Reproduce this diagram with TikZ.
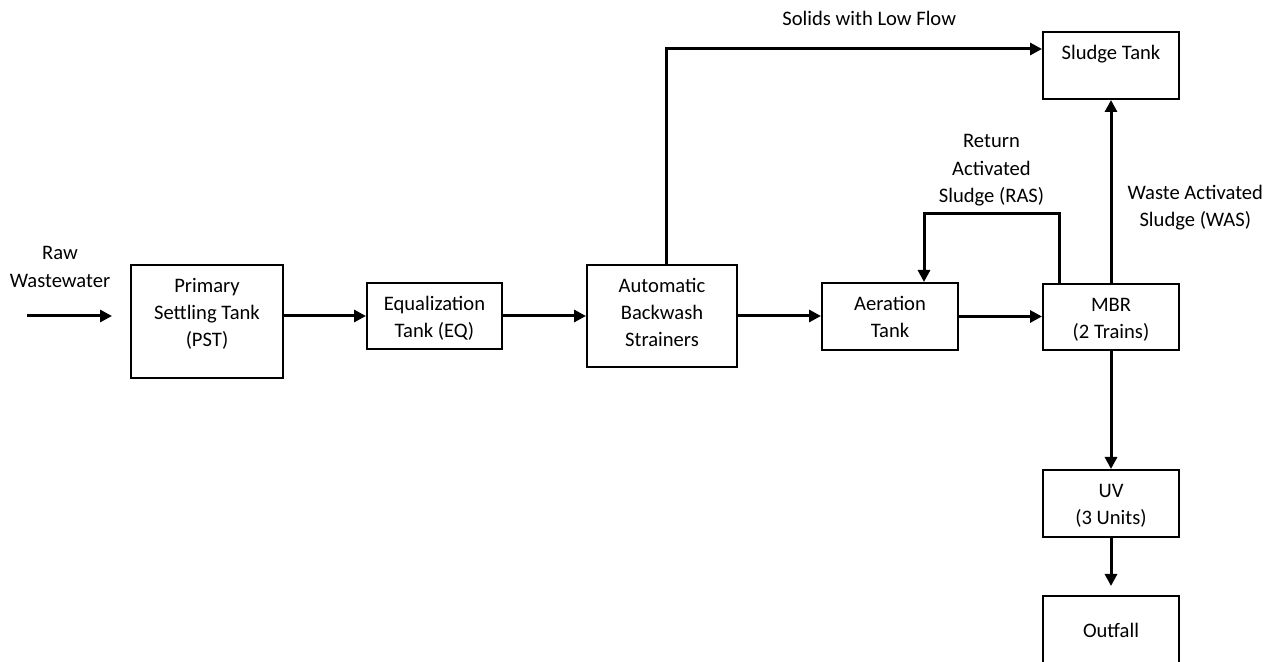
\documentclass[tikz,border=0pt]{standalone}
\usepackage{fontspec}
\setmainfont{Carlito}
\usetikzlibrary{arrows.meta,positioning,calc}

\begin{document}
\begin{tikzpicture}[
    x=0.5pt, y=-0.5pt,
    font=\fontsize{10.3pt}{13.6pt}\selectfont,
    unit/.style={draw, line width=1pt, inner sep=0pt, align=flush center, text height=13.7pt, anchor=north west},
    flow/.style={->, >={Triangle[length=6pt,width=6pt]}, line width=1.5pt},
    tag/.style={align=center}
]
\clip (0,0) rectangle (1270,662);

% treatment units
\node[unit, text width=76pt, text depth=42.8pt] (pst) at (130,264) {Primary\\Settling Tank\\(PST)};
\node[unit, text width=67.5pt, text depth=19.3pt] (eq) at (366,282) {Equalization\\Tank (EQ)};
\node[unit, text width=75pt, text depth=37.3pt] (abs) at (586,264) {Automatic\\Backwash\\Strainers};
\node[unit, text width=68pt, text depth=19.8pt] (aer) at (821,282) {Aeration\\Tank};
\node[unit, text width=68pt, text depth=19.3pt] (mbr) at (1042,283) {MBR\\(2 Trains)};
\node[unit, text width=68pt, text depth=19.8pt] (sludge) at (1042,31) {Sludge Tank};
\node[unit, text width=68pt, text depth=19.8pt] (uv) at (1042,469) {UV\\(3 Units)};
\node[unit, text width=68pt, text height=20.8pt, text depth=24.2pt] (outfall) at (1042,595) {Outfall};

% influent
\coordinate (rawin) at (27,316);
\node[tag] (rawtag) at (60,267) {Raw\\Wastewater};
\draw[flow, shorten >=9pt] (rawin) -- (rawin -| pst.west);

% main train
\draw[flow] (pst.east |- eq.west) -- (eq.west);
\draw[flow] (eq.east) -- (abs.west);
\draw[flow] (abs.east) -- (abs.east -| aer.west);
\draw[flow] (aer.east) -- (aer.east -| mbr.west);
\draw[flow] (mbr) -- (uv);
\draw[flow, shorten >=4.5pt] (uv) -- (outfall);

% solids and sludge lines
\draw[flow] ([xshift=2.25pt]abs.north) |- node[pos=0.75, above=7.7pt, xshift=7.5pt] (solidstag) {Solids with Low Flow} ([yshift=8.25pt]sludge.west);
\draw[flow] ([xshift=-26pt]mbr.north) -- ++(0,-69) -| node[pos=0.25, above, tag] (rastag) {Return\\Activated\\Sludge (RAS)} ([xshift=17pt]aer.north);
\draw[flow] (mbr) -- node[pos=0.41, right=4.2pt, tag] (wastag) {Waste Activated\\Sludge (WAS)} (sludge);

\end{tikzpicture}
\end{document}
